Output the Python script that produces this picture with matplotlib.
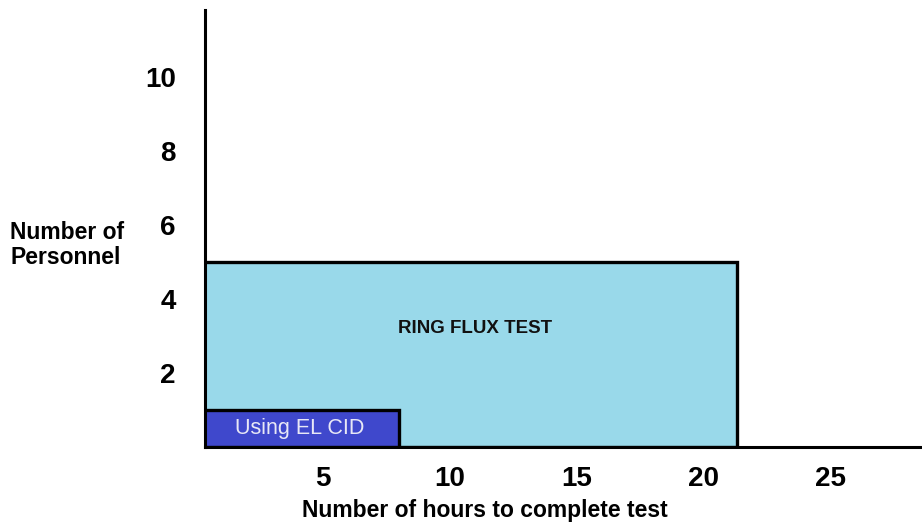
import matplotlib.pyplot as plt
from matplotlib.patches import Rectangle

plt.rcParams['font.family'] = ['Liberation Sans', 'DejaVu Sans']

# datos: (nombre, horas, personal)
pruebas = ['RING FLUX TEST', 'Using EL CID']
horas = [21.3, 8.0]
personal = [5, 1]
colores = ['#99d9ea', '#3f48cc']

xticks = [5, 10, 15, 20, 25]
yticks = [2, 4, 6, 8, 10]

fig = plt.figure(figsize=(9.22, 5.25), dpi=100)
ax = fig.add_axes([205 / 922, 78 / 525, 717 / 922, 437 / 525])

for h, p, c in zip(horas, personal, colores):
    ax.add_patch(Rectangle((0, 0), h, p, facecolor=c, edgecolor='black', linewidth=2.4))

# etiquetas dentro de los rectángulos
ax.text(11.0, 3.2, pruebas[0], ha='center', va='center', fontsize=13.5, weight='bold', color='#111111')
ax.text(4.1, 0.5, pruebas[1], ha='center', va='center', fontsize=15.5, color='#e8e8f6')

ax.set_xlim(0.35, 28.6)
ax.set_ylim(0, 11.8)
ax.set_xticks(xticks)
ax.set_yticks(yticks)
ax.set_xticklabels([str(t) for t in xticks], fontsize=20, weight='bold')
ax.set_yticklabels([str(t) for t in yticks], fontsize=20, weight='bold')
ax.tick_params(length=0)
ax.tick_params(axis='y', pad=21)
ax.tick_params(axis='x', pad=14)

for s in ['top', 'right']:
    ax.spines[s].set_visible(False)
for s in ['left', 'bottom']:
    ax.spines[s].set_linewidth(2.2)
    ax.spines[s].set_color('black')

fig.text(10 / 922, 1 - 245 / 525, 'Number of\nPersonnel', ha='left', va='center',
         fontsize=16.5, weight='bold', linespacing=1.15)
fig.text(485 / 922, 1 - 511 / 525, 'Number of hours to complete test', ha='center', va='center',
         fontsize=16.5, weight='bold')

fig.savefig('out.png', dpi=100)
